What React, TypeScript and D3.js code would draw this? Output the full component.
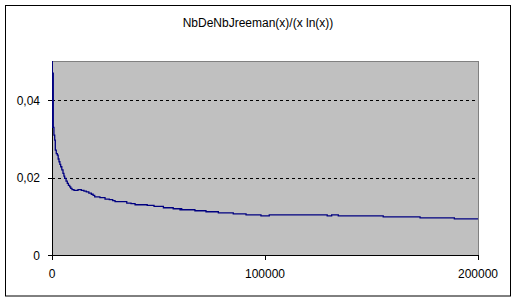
import React from "react";
import * as d3 from "d3";

// Sample positions (x) and ratio values (y) (step series)
const xValues = [
  0, 150, 350, 600, 900, 1270, 1550, 2000, 2490, 2900, 3290, 3700, 4080, 4600,
  5160, 5600, 5960, 6600, 7180, 7700, 8310, 8800, 9390, 10330, 12200, 13760,
  15000, 16100, 17300, 18450, 19300, 20050, 22500, 24900, 26900, 28500, 29600,
  35100, 37100, 39000, 44700, 47900, 52300, 56900, 60100, 60500, 60900, 67100,
  72300, 78100, 85100, 88300, 91100, 98100, 102000, 129200, 131300, 134400,
  155500, 172800, 188900, 200000,
];
const yValues = [
  0.09, 0.033, 0.047, 0.033, 0.031, 0.0297, 0.0271, 0.0262, 0.0258, 0.0248,
  0.0241, 0.0234, 0.0228, 0.022, 0.0211, 0.0204, 0.0198, 0.0191, 0.0185, 0.018,
  0.0176, 0.0172, 0.0169, 0.0167, 0.0169, 0.0167, 0.0165, 0.0163, 0.016,
  0.0157, 0.0154, 0.015, 0.01481, 0.01444, 0.01429, 0.01403, 0.01377, 0.0134,
  0.01325, 0.01299, 0.01281, 0.01255, 0.01221, 0.01195, 0.01169, 0.01195,
  0.01169, 0.01143, 0.01117, 0.01091, 0.01065, 0.01065, 0.01039, 0.01013,
  0.01039, 0.01013, 0.01039, 0.01013, 0.00987, 0.00961, 0.00935, 0.00935,
];
const yTicks = [0, 0.02, 0.04];
const yTickLabels = ["0", "0,02", "0,04"];
const xTicks = [0, 100000, 200000];
const xTickLabels = ["0", "100000", "200000"];
const gridValues = [0.02, 0.04];
const title = "NbDeNbJreeman(x)/(x ln(x))";

export default function App() {
  const W = 516;
  const H = 301;
  const left = 52;
  const right = 478;
  const top = 61.5;
  const bottom = 255;
  const x = d3.scaleLinear().domain([0, 200000]).range([left, right]);
  const y = d3.scaleLinear().domain([0, 0.05]).range([bottom, top]);
  const pts: [number, number][] = xValues.map((v, i) => [v, yValues[i]]);
  const line = d3
    .line<[number, number]>()
    .x((d) => x(d[0]))
    .y((d) => y(d[1]))
    .curve(d3.curveStepAfter);
  const font = "Arial, 'Liberation Sans', sans-serif";
  return (
    <svg
      width={W}
      height={H}
      style={{ position: "absolute", left: 0, top: 0, display: "block" }}
    >
      <rect x={0} y={0} width={W} height={H} fill="#ffffff" />
      <rect
        x={5.5}
        y={5.5}
        width={505}
        height={290.5}
        fill="#ffffff"
        stroke="#000000"
        strokeWidth={1}
      />
      <text
        x={258}
        y={27}
        textAnchor="middle"
        fontFamily={font}
        fontSize={12}
        fill="#000"
      >
        {title}
      </text>
      <defs>
        <clipPath id="plotClip">
          <rect x={left} y={top - 0.5} width={right - left} height={bottom - top + 0.5} />
        </clipPath>
      </defs>
      <rect
        x={left}
        y={top - 0.5}
        width={right - left}
        height={bottom - top + 0.5}
        fill="#c0c0c0"
        stroke="#808080"
        strokeWidth={1}
        shapeRendering="crispEdges"
      />
      {gridValues.map((g) => (
        <line
          key={g}
          x1={left}
          x2={right}
          y1={Math.round(y(g)) + 0.5}
          y2={Math.round(y(g)) + 0.5}
          stroke="#000"
          strokeDasharray="3,3"
          shapeRendering="crispEdges"
        />
      ))}
      {/* axes */}
      <line x1={left + 0.5} x2={left + 0.5} y1={top - 0.5} y2={bottom + 0.5} stroke="#000" shapeRendering="crispEdges" />
      <line x1={left} x2={right} y1={bottom + 0.5} y2={bottom + 0.5} stroke="#000" shapeRendering="crispEdges" />
      {yTicks.map((t, i) => (
        <g key={t}>
          <line
            x1={left - 4}
            x2={left}
            y1={Math.round(y(t)) + 0.5}
            y2={Math.round(y(t)) + 0.5}
            stroke="#000"
            shapeRendering="crispEdges"
          />
          <text
            x={40}
            y={y(t) + 4.5}
            textAnchor="end"
            fontFamily={font}
            fontSize={12}
            fill="#000"
          >
            {yTickLabels[i]}
          </text>
        </g>
      ))}
      {xTicks.map((t, i) => (
        <g key={t}>
          <line
            x1={Math.round(x(t)) + 0.5}
            x2={Math.round(x(t)) + 0.5}
            y1={bottom}
            y2={bottom + 5}
            stroke="#000"
            shapeRendering="crispEdges"
          />
          <text
            x={x(t)}
            y={278}
            textAnchor="middle"
            fontFamily={font}
            fontSize={12}
            fill="#000"
          >
            {xTickLabels[i]}
          </text>
        </g>
      ))}
      <path
        d={line(pts) || ""}
        fill="none"
        stroke="#000080"
        strokeWidth={1.3}
        clipPath="url(#plotClip)"
      />
    </svg>
  );
}
